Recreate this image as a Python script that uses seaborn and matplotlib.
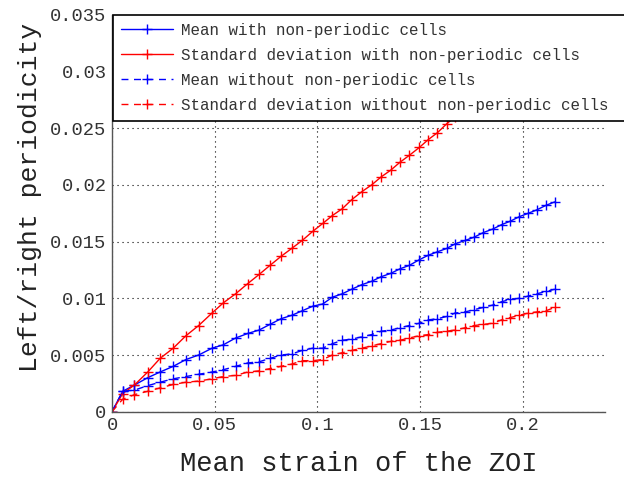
import matplotlib
matplotlib.use("Agg")
import matplotlib.pyplot as plt
import seaborn as sns
import pandas as pd
from matplotlib.ticker import AutoMinorLocator

# ---- data ----
strain = [0.0, 0.0052, 0.0109, 0.0174, 0.0234, 0.0298, 0.0360, 0.0422, 0.0487, 0.0542,
          0.0602, 0.0661, 0.0716, 0.0769, 0.0823, 0.0875, 0.0926, 0.0977, 0.1026, 0.1073,
          0.1121, 0.1167, 0.1216, 0.1264, 0.1310, 0.1357, 0.1402, 0.1447, 0.1496, 0.1540,
          0.1584, 0.1630, 0.1670, 0.1719, 0.1764, 0.1808, 0.1853, 0.1897, 0.1939, 0.1983,
          0.2027, 0.2068, 0.2113, 0.2155]

mean_with = [0.0, 0.0018, 0.00235, 0.0030, 0.0035, 0.0040, 0.0046, 0.0050, 0.0056, 0.0059,
             0.0065, 0.0069, 0.0072, 0.0077, 0.0082, 0.0085, 0.0089, 0.0093, 0.0095, 0.0101,
             0.0104, 0.0108, 0.0112, 0.0115, 0.0119, 0.0122, 0.0126, 0.0129, 0.0134, 0.0138,
             0.0141, 0.0144, 0.0148, 0.0151, 0.0154, 0.0158, 0.0161, 0.0165, 0.0168, 0.0172,
             0.0175, 0.0178, 0.0182, 0.0185]

std_with = [0.0, 0.0016, 0.00235, 0.0035, 0.0047, 0.0056, 0.0067, 0.0076, 0.0087, 0.0096,
            0.0104, 0.0113, 0.0121, 0.0129, 0.0137, 0.0144, 0.0151, 0.0159, 0.0166, 0.0173,
            0.0179, 0.0187, 0.0194, 0.0200, 0.0207, 0.0213, 0.0220, 0.0226, 0.0233, 0.0240,
            0.0246, 0.0254, 0.0260, 0.0267, 0.0273, 0.0280, 0.0286, 0.0292, 0.0298, 0.0305,
            0.0311, 0.0317, 0.0323, 0.0329]

mean_without = [0.0, 0.0018, 0.0019, 0.0023, 0.0026, 0.0029, 0.0031, 0.0033, 0.0035, 0.0037,
                0.0040, 0.0043, 0.0044, 0.0047, 0.0050, 0.0051, 0.0054, 0.0056, 0.0056, 0.0060,
                0.0063, 0.0064, 0.0066, 0.0068, 0.0071, 0.0072, 0.0074, 0.0076, 0.0078, 0.0081,
                0.0082, 0.0084, 0.0087, 0.0088, 0.0090, 0.0092, 0.0094, 0.0097, 0.0099, 0.0100,
                0.0102, 0.0104, 0.0106, 0.0108]

std_without = [0.0, 0.0011, 0.0015, 0.0018, 0.0021, 0.0024, 0.0026, 0.0027, 0.0029, 0.0031,
               0.0032, 0.0035, 0.0036, 0.0038, 0.0040, 0.0042, 0.0045, 0.0045, 0.0046, 0.0050,
               0.0052, 0.0054, 0.0056, 0.0058, 0.0060, 0.0062, 0.0063, 0.0065, 0.0067, 0.0068,
               0.0070, 0.0071, 0.0072, 0.0074, 0.0076, 0.0077, 0.0078, 0.0081, 0.0083, 0.0085,
               0.0087, 0.0088, 0.0089, 0.0092]

labels = ["Mean with non-periodic cells",
          "Standard deviation with non-periodic cells",
          "Mean without non-periodic cells",
          "Standard deviation without non-periodic cells"]
series = [mean_with, std_with, mean_without, std_without]
colors = ["#0000ff", "#ff0000", "#0000ff", "#ff0000"]
styles = ["-", "-", (0, (5, 4)), (0, (5, 4))]

x_ticks = [0, 0.05, 0.1, 0.15, 0.2]
x_ticklabels = ["0", "0.05", "0.1", "0.15", "0.2"]
y_ticks = [0, 0.005, 0.01, 0.015, 0.02, 0.025, 0.03, 0.035]
y_ticklabels = ["0", "0.005", "0.01", "0.015", "0.02", "0.025", "0.03", "0.035"]

# ---- plotting ----
sns.set_style("white")
plt.rcParams["font.family"] = ["Liberation Mono", "DejaVu Sans Mono"]

fig = plt.figure(figsize=(6.24, 4.79), dpi=100)
ax = fig.add_axes([112 / 624, 1 - 411.7 / 479, (605 - 112) / 624, (411.7 - 14.8) / 479])

for y, lab, c, ls in zip(series, labels, colors, styles):
    df = pd.DataFrame({"strain": strain, "value": y})
    sns.lineplot(data=df, x="strain", y="value", ax=ax, color=c, linestyle=ls,
                 marker="+", markersize=7, markeredgewidth=1.0,
                 markeredgecolor=c, markerfacecolor=c, linewidth=1.0,
                 label=lab, sort=False, estimator=None)

ax.set_xlim(0, 0.24)
ax.set_ylim(0, 0.035)
ax.set_xticks(x_ticks)
ax.set_xticklabels(x_ticklabels)
ax.set_yticks(y_ticks)
ax.set_yticklabels(y_ticklabels)
ax.xaxis.set_minor_locator(AutoMinorLocator(10))
ax.yaxis.set_minor_locator(AutoMinorLocator(5))
ax.tick_params(axis="both", which="major", direction="in", length=4, width=0.8,
               colors="#444444", labelcolor="#333333", labelsize=13.5, pad=4)
ax.tick_params(axis="both", which="minor", direction="in", length=2, width=0.6,
               colors="#777777")

ax.grid(True, which="major", color="black", linestyle=(0, (1, 3.5)), linewidth=0.8)
for side in ["top", "right"]:
    ax.spines[side].set_visible(False)
for side in ["left", "bottom"]:
    ax.spines[side].set_color("#555555")
    ax.spines[side].set_linewidth(1.0)

ax.set_xlabel("Mean strain of the ZOI", fontsize=19.5, color="#222222")
ax.set_ylabel("Left/right periodicity", fontsize=19, color="#222222")
ax.xaxis.set_label_coords(0.5, (411.7 - 451) / 396.9)
ax.yaxis.set_label_coords((42 - 112) / 493, (411.7 - 197) / 396.9)

leg = ax.legend(loc="upper left", bbox_to_anchor=(113 / 624, 1 - 15 / 479, (640 - 113) / 624, 0),
                bbox_transform=fig.transFigure, borderaxespad=0, fontsize=11.4,
                mode="expand", frameon=True, fancybox=False, framealpha=1,
                edgecolor="black", handlelength=3.3, handletextpad=0.5,
                labelspacing=0.63, borderpad=0.5)
leg.get_frame().set_linewidth(1.2)
for t in leg.get_texts():
    t.set_color("#333333")

fig.savefig("out.png", dpi=100)
